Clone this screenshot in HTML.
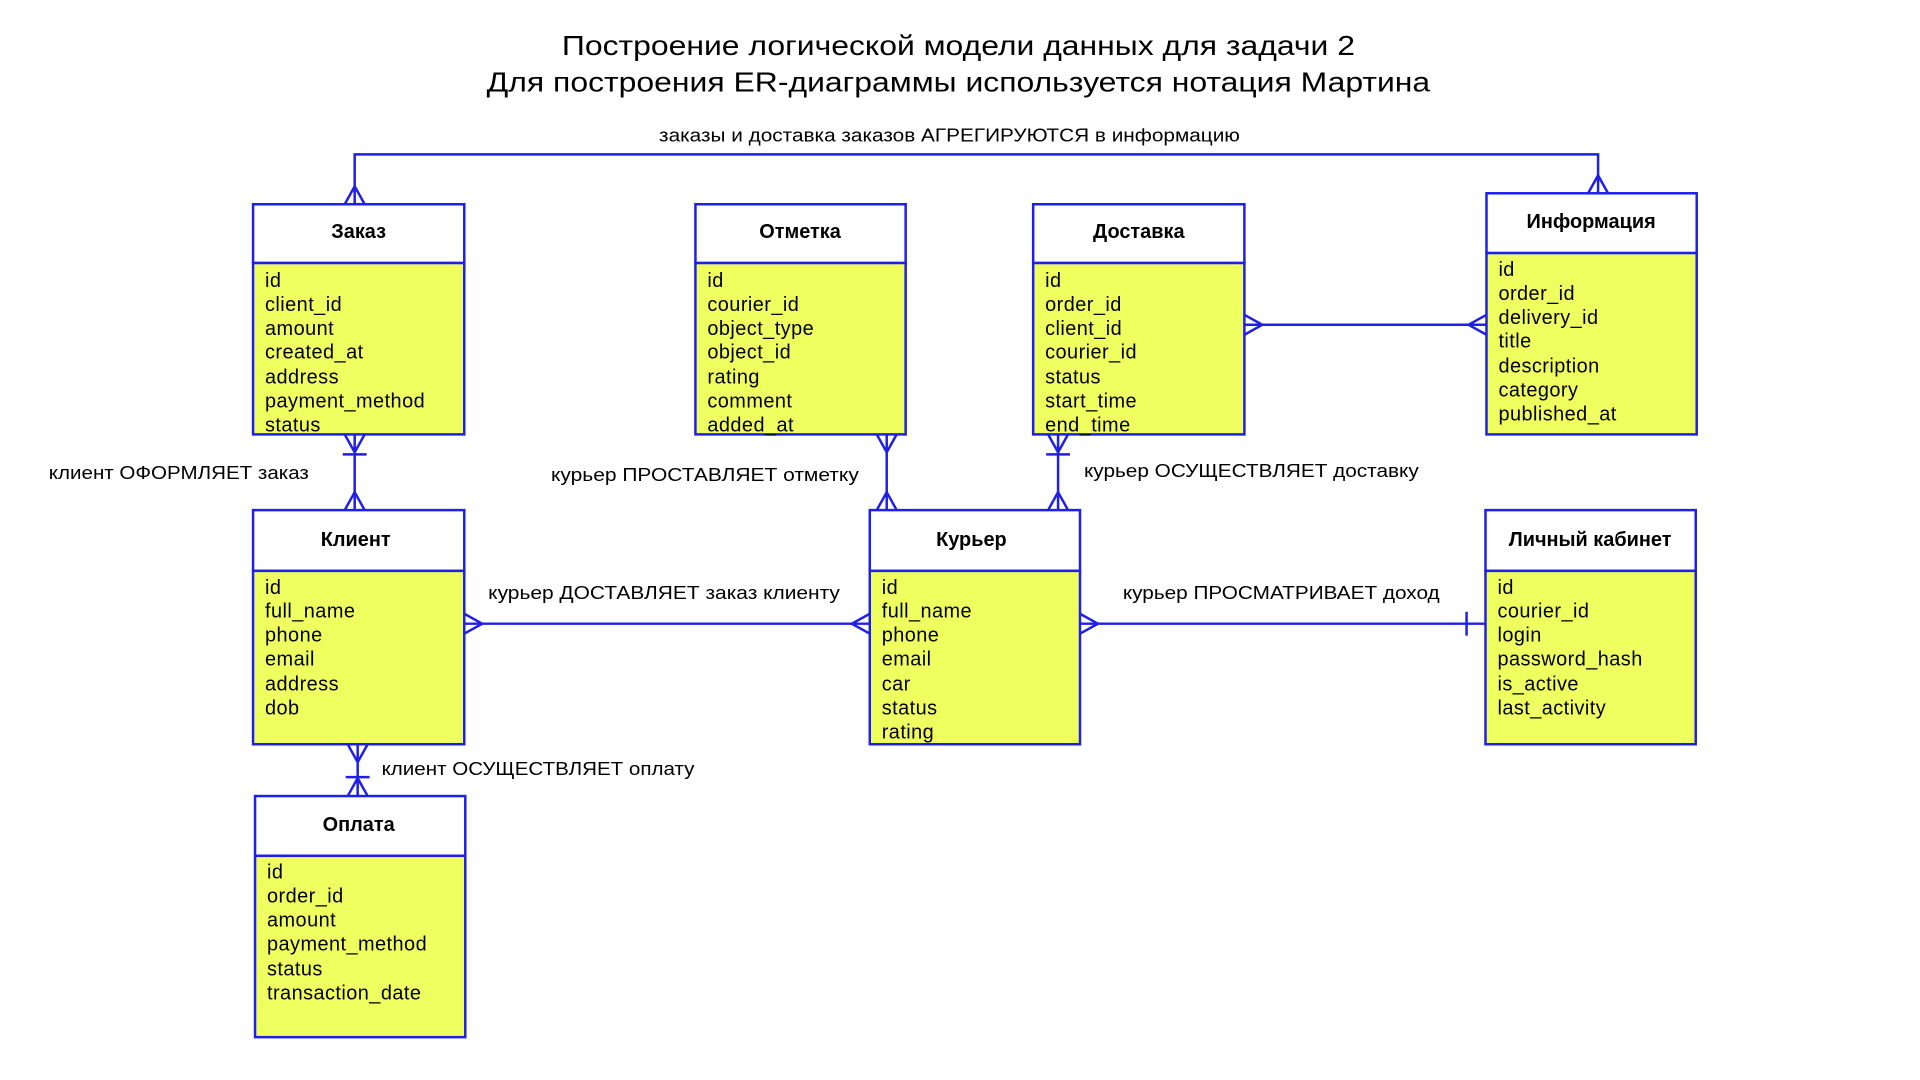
<!DOCTYPE html>
<html><head><meta charset="utf-8"><style>
html,body{margin:0;padding:0;background:#fff;width:1920px;height:1080px;overflow:hidden}
svg{display:block}
text{font-family:"Liberation Sans","DejaVu Sans",sans-serif;fill:#000}
.t{font-size:20px;letter-spacing:0.45px}
.h{font-size:20px;font-weight:bold}
.l{font-size:19px}
</style></head><body>
<svg width="1920" height="1080" viewBox="0 0 1927 1084" preserveAspectRatio="xMinYMin meet" xmlns="http://www.w3.org/2000/svg">
<text x="962" y="55" font-size="28" text-anchor="middle" textLength="796" lengthAdjust="spacingAndGlyphs">Построение логической модели данных для задачи 2</text>
<text x="962" y="92" font-size="28" text-anchor="middle" textLength="947" lengthAdjust="spacingAndGlyphs">Для построения ER-диаграммы используется нотация Мартина</text>
<text x="953" y="142" class="l" text-anchor="middle" textLength="583" lengthAdjust="spacingAndGlyphs">заказы и доставка заказов АГРЕГИРУЮТСЯ в информацию</text>

<g fill="none" stroke="#1f1fe8" stroke-width="2.5">
<polyline points="356,205 356,155 1604,155 1604,194"/>
<polyline points="346,205 356,187 366,205"/>
<polyline points="1594,194 1604,176 1614,194"/>
<line x1="356" y1="436" x2="356" y2="512"/>
<polyline points="346,436 356,454 366,436"/>
<line x1="344" y1="456" x2="368" y2="456"/>
<polyline points="346,512 356,494 366,512"/>
<line x1="890" y1="436" x2="890" y2="512"/>
<polyline points="880,436 890,454 900,436"/>
<polyline points="880,512 890,494 900,512"/>
<line x1="1062" y1="436" x2="1062" y2="512"/>
<polyline points="1052,436 1062,454 1072,436"/>
<line x1="1050" y1="456" x2="1074" y2="456"/>
<polyline points="1052,512 1062,494 1072,512"/>
<line x1="1249" y1="326" x2="1492" y2="326"/>
<polyline points="1249,316 1267,326 1249,336"/>
<polyline points="1492,316 1474,326 1492,336"/>
<line x1="466" y1="626" x2="873" y2="626"/>
<polyline points="466,616 484,626 466,636"/>
<polyline points="873,616 855,626 873,636"/>
<line x1="1084" y1="626" x2="1491" y2="626"/>
<polyline points="1084,616 1102,626 1084,636"/>
<line x1="1472" y1="614" x2="1472" y2="638"/>
<line x1="359" y1="747" x2="359" y2="799"/>
<polyline points="349,747 359,765 369,747"/>
<line x1="347" y1="780" x2="371" y2="780"/>
<polyline points="349,799 359,781 369,799"/>
</g>

<g stroke="#1f1fe8" stroke-width="2.5">
<rect x="254" y="205" width="212" height="59" fill="#fff"/>
<rect x="254" y="264" width="212" height="172" fill="#f0ff60"/>
<rect x="698" y="205" width="211" height="59" fill="#fff"/>
<rect x="698" y="264" width="211" height="172" fill="#f0ff60"/>
<rect x="1037" y="205" width="212" height="59" fill="#fff"/>
<rect x="1037" y="264" width="212" height="172" fill="#f0ff60"/>
<rect x="1492" y="194" width="211" height="60" fill="#fff"/>
<rect x="1492" y="254" width="211" height="182" fill="#f0ff60"/>
<rect x="254" y="512" width="212" height="61" fill="#fff"/>
<rect x="254" y="573" width="212" height="174" fill="#f0ff60"/>
<rect x="873" y="512" width="211" height="61" fill="#fff"/>
<rect x="873" y="573" width="211" height="174" fill="#f0ff60"/>
<rect x="1491" y="512" width="211" height="61" fill="#fff"/>
<rect x="1491" y="573" width="211" height="174" fill="#f0ff60"/>
<rect x="256" y="799" width="211" height="60" fill="#fff"/>
<rect x="256" y="859" width="211" height="182" fill="#f0ff60"/>
</g>

<g text-anchor="middle">
<text x="360" y="239" class="h">Заказ</text>
<text x="803" y="239" class="h">Отметка</text>
<text x="1143" y="239" class="h">Доставка</text>
<text x="1597" y="229" class="h">Информация</text>
<text x="357" y="548" class="h">Клиент</text>
<text x="975" y="548" class="h">Курьер</text>
<text x="1596" y="548" class="h">Личный кабинет</text>
<text x="360" y="834" class="h">Оплата</text>
</g>

<g>
<text x="266" y="288" class="t">id</text><text x="266" y="312" class="t">client_id</text><text x="266" y="336" class="t">amount</text><text x="266" y="360" class="t">created_at</text><text x="266" y="385" class="t">address</text><text x="266" y="409" class="t">payment_method</text><text x="266" y="433" class="t">status</text>

<text x="710" y="288" class="t">id</text><text x="710" y="312" class="t">courier_id</text><text x="710" y="336" class="t">object_type</text><text x="710" y="360" class="t">object_id</text><text x="710" y="385" class="t">rating</text><text x="710" y="409" class="t">comment</text><text x="710" y="433" class="t">added_at</text>

<text x="1049" y="288" class="t">id</text><text x="1049" y="312" class="t">order_id</text><text x="1049" y="336" class="t">client_id</text><text x="1049" y="360" class="t">courier_id</text><text x="1049" y="385" class="t">status</text><text x="1049" y="409" class="t">start_time</text><text x="1049" y="433" class="t">end_time</text>

<text x="1504" y="277" class="t">id</text><text x="1504" y="301" class="t">order_id</text><text x="1504" y="325" class="t">delivery_id</text><text x="1504" y="349" class="t">title</text><text x="1504" y="374" class="t">description</text><text x="1504" y="398" class="t">category</text><text x="1504" y="422" class="t">published_at</text>

<text x="266" y="596" class="t">id</text><text x="266" y="620" class="t">full_name</text><text x="266" y="644" class="t">phone</text><text x="266" y="668" class="t">email</text><text x="266" y="693" class="t">address</text><text x="266" y="717" class="t">dob</text>

<text x="885" y="596" class="t">id</text><text x="885" y="620" class="t">full_name</text><text x="885" y="644" class="t">phone</text><text x="885" y="668" class="t">email</text><text x="885" y="693" class="t">car</text><text x="885" y="717" class="t">status</text><text x="885" y="741" class="t">rating</text>

<text x="1503" y="596" class="t">id</text><text x="1503" y="620" class="t">courier_id</text><text x="1503" y="644" class="t">login</text><text x="1503" y="668" class="t">password_hash</text><text x="1503" y="693" class="t">is_active</text><text x="1503" y="717" class="t">last_activity</text>

<text x="268" y="882" class="t">id</text><text x="268" y="906" class="t">order_id</text><text x="268" y="930" class="t">amount</text><text x="268" y="954" class="t">payment_method</text><text x="268" y="979" class="t">status</text><text x="268" y="1003" class="t">transaction_date</text>
</g>

<text x="49" y="481" class="l" textLength="261" lengthAdjust="spacingAndGlyphs">клиент ОФОРМЛЯЕТ заказ</text>
<text x="553" y="483" class="l" textLength="309" lengthAdjust="spacingAndGlyphs">курьер ПРОСТАВЛЯЕТ отметку</text>
<text x="1088" y="479" class="l" textLength="336" lengthAdjust="spacingAndGlyphs">курьер ОСУЩЕСТВЛЯЕТ доставку</text>
<text x="490" y="601" class="l" textLength="353" lengthAdjust="spacingAndGlyphs">курьер ДОСТАВЛЯЕТ заказ клиенту</text>
<text x="1127" y="601" class="l" textLength="318" lengthAdjust="spacingAndGlyphs">курьер ПРОСМАТРИВАЕТ доход</text>
<text x="383" y="778" class="l" textLength="314" lengthAdjust="spacingAndGlyphs">клиент ОСУЩЕСТВЛЯЕТ оплату</text>
</svg>
</body></html>
